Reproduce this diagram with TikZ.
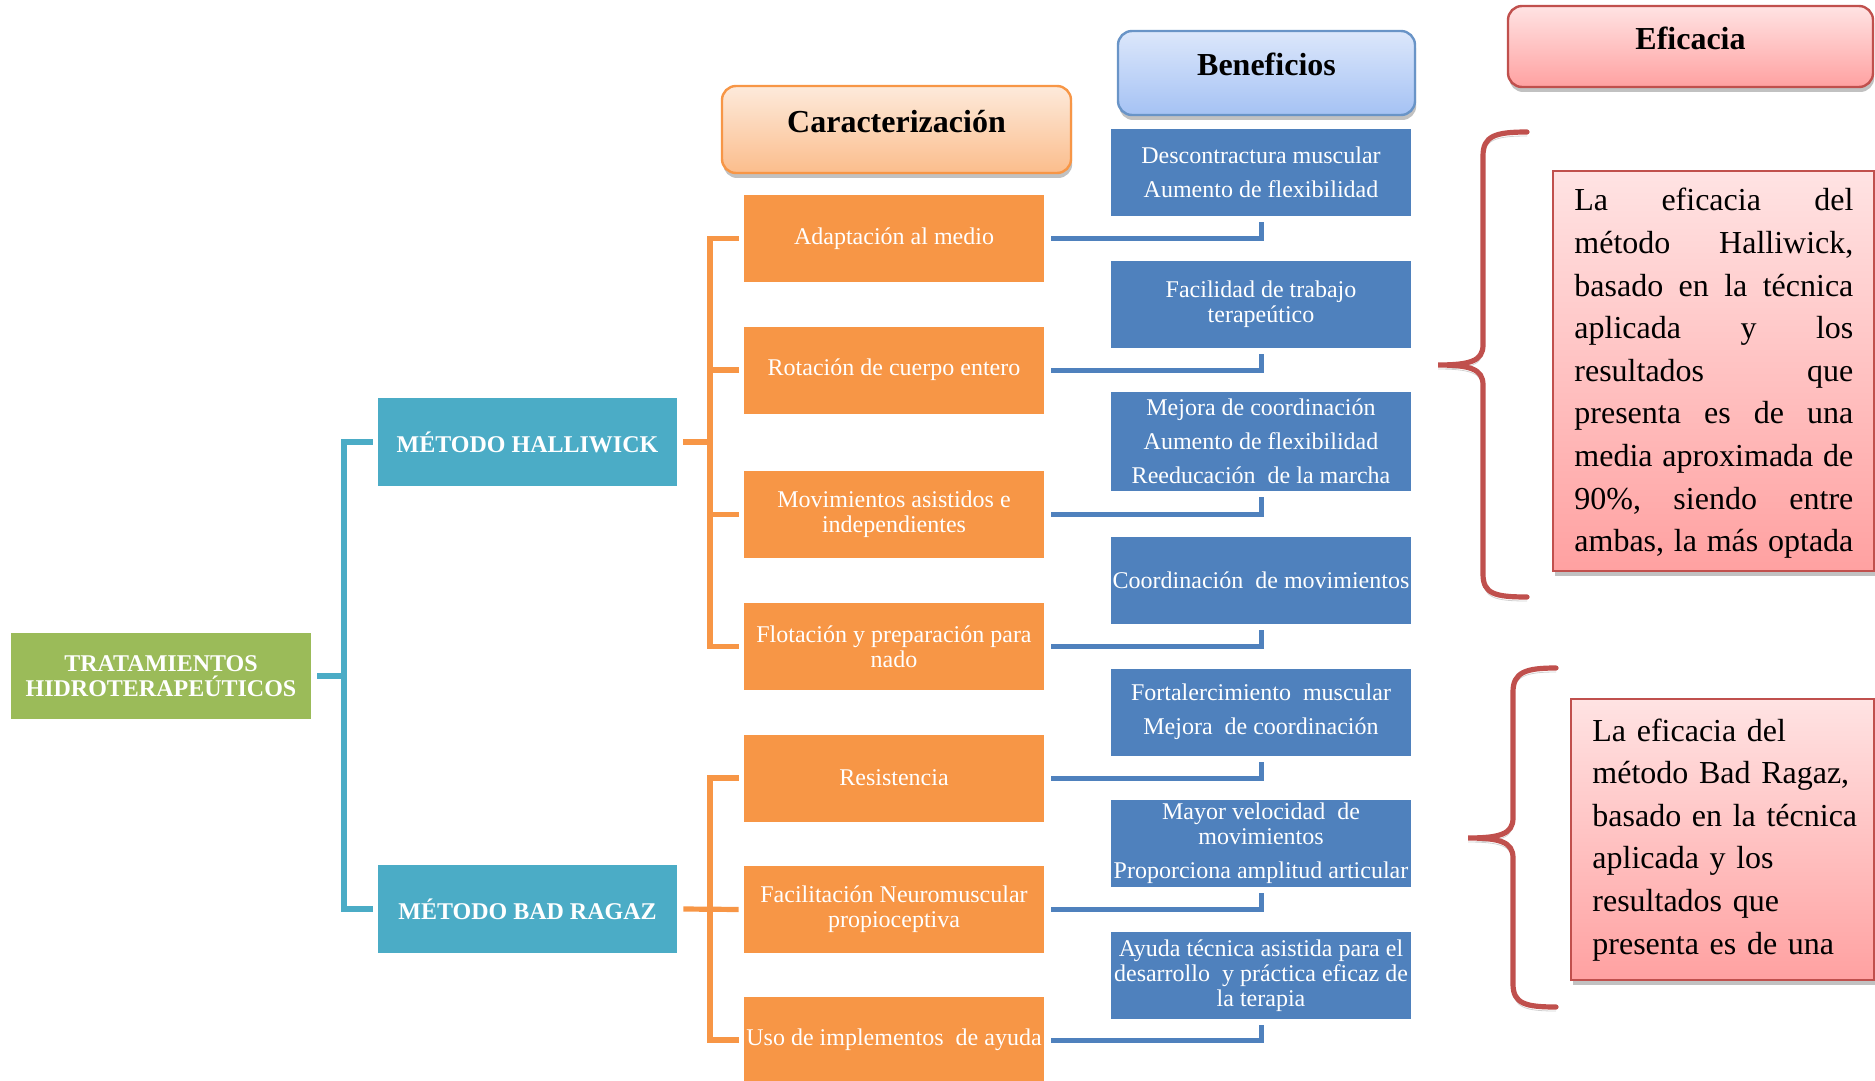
\documentclass[tikz,border=0pt]{standalone}
\usepackage{fontspec}
\setmainfont{Liberation Serif}
\usetikzlibrary{shadows}
\definecolor{cgreen}{HTML}{9BBB59}
\definecolor{cteal}{HTML}{4BACC6}
\definecolor{corange}{HTML}{F79646}
\definecolor{cblue}{HTML}{4F81BD}
\definecolor{cred}{HTML}{C0504D}
\definecolor{pkTop}{HTML}{FDEADB}
\definecolor{pkBot}{HTML}{FBBD8C}
\definecolor{blTop}{HTML}{DCE7FB}
\definecolor{blBot}{HTML}{A5C2F4}
\definecolor{rdTop}{HTML}{FFE3E3}
\definecolor{rdBot}{HTML}{FFA1A1}
\newcommand{\jline}[1]{\makebox[139.5pt]{#1}}
\begin{document}
\begin{tikzpicture}[x=0.5pt,y=-0.5pt,
  box/.style={rectangle, minimum width=150pt, minimum height=43.5pt, inner sep=0pt,
    text=white, align=center, font=\fontsize{12}{12.5}\selectfont},
  gbox/.style={box, fill=cgreen, minimum height=43pt, font=\bfseries\fontsize{12}{12.5}\selectfont},
  tbox/.style={box, fill=cteal, minimum width=149.5pt, minimum height=44pt, font=\bfseries\fontsize{12}{12.5}\selectfont},
  obox/.style={box, fill=corange},
  bbox/.style={box, fill=cblue},
  tline/.style={draw=cteal, line width=2.6pt},
  oline/.style={draw=corange, line width=2.6pt},
  bline/.style={draw=cblue, line width=2.5pt},
  hdr/.style={rectangle, rounded corners=7pt, line width=1.2pt, inner sep=0pt,
    text=black, font=\bfseries\fontsize{16}{18}\selectfont, text height=12pt, text depth=9pt,
    drop shadow={shadow xshift=0.6pt, shadow yshift=-2.5pt, opacity=0.35, fill=black!70}},
  rbox/.style={rectangle, draw=cred, line width=1pt, top color=rdTop, bottom color=rdBot, inner sep=0pt,
    drop shadow={shadow xshift=0.8pt, shadow yshift=-2.5pt, opacity=0.35, fill=black!70}},
  rtext/.style={inner sep=0pt, text=black, align=left, font=\fontsize{16}{21.3}\selectfont},
  brace/.style={draw=cred, line width=2.6pt, line cap=round,
    preaction={draw=black, draw opacity=0.18, transform canvas={yshift=-2pt}}}
]
\useasboundingbox (0,0) rectangle (1875,1081);

% headers
\node[hdr, draw=corange, top color=pkTop, bottom color=pkBot, minimum width=174.5pt, minimum height=43.5pt] (car) at (896.5,129.5) {Caracterización};
\node[hdr, draw=cblue!85, top color=blTop, bottom color=blBot, minimum width=148.5pt, minimum height=42pt] (ben) at (1266.5,73) {Beneficios};
\node[hdr, draw=cred, top color=rdTop, bottom color=rdBot, minimum width=182.5pt, minimum height=40.5pt] (efi) at (1690.5,46.5) {Eficacia};

% main nodes
\node[gbox] (trat) at (161,676) {TRATAMIENTOS\\HIDROTERAPEÚTICOS};
\node[tbox] (hall) at (527.5,442) {MÉTODO HALLIWICK};
\node[tbox] (bad) at (527.5,909) {MÉTODO BAD RAGAZ};

% characterisation
\node[obox] (c1) at (894,238.5) {Adaptación al medio};
\node[obox] (c2) at (894,370) {Rotación de cuerpo entero};
\node[obox] (c3) at (894,514.5) {Movimientos asistidos e\\independientes};
\node[obox] (c4) at (894,646.5) {Flotación y preparación para\\nado};
\node[obox] (c5) at (894,778) {Resistencia};
\node[obox] (c6) at (894,909.5) {Facilitación Neuromuscular\\propioceptiva};
\node[obox] (c7) at (894,1040) {Uso de implementos\ \ de ayuda};

% benefits
\node[bbox] (b1) at (1261,172.5) {Descontractura muscular\\[4.5pt]Aumento de flexibilidad};
\node[bbox] (b2) at (1261,304.5) {Facilidad de trabajo\\terapeútico};
\node[bbox, minimum height=49.5pt] (b3) at (1261,441.5) {Mejora de coordinación\\[4.5pt]Aumento de flexibilidad\\[4.5pt]Reeducación\ \ de la marcha};
\node[bbox] (b4) at (1261,580.5) {Coordinación\ \ de movimientos};
\node[bbox] (b5) at (1261,712) {Fortalercimiento\ \ muscular\\[4.5pt]Mejora\ \ de coordinación};
\node[bbox] (b6) at (1261,843.5) {Mayor velocidad\ \ de\\movimientos\\[4.5pt]Proporciona amplitud articular};
\node[bbox] (b7) at (1261,975.5) {Ayuda técnica asistida para el\\desarrollo\ \ y práctica eficaz de\\la terapia};

% tree connectors
\coordinate (tj) at (344,676);
\draw[tline] ([xshift=3pt]trat.east) -- (tj);
\draw[tline] ([xshift=-2.5pt]hall.west) -| (tj) |- ([xshift=-2.5pt]bad.west);

\coordinate (hj) at (710,442);
\draw[oline] ([xshift=3pt]hall.east) -- (hj);
\draw[oline] ([xshift=-2.5pt]c1.west) -| (hj) |- ([xshift=-2.5pt]c4.west);
\draw[oline] ([xshift=-2.5pt]c2.west) -- (c2.west -| hj);
\draw[oline] ([xshift=-2.5pt]c3.west) -- (c3.west -| hj);

\coordinate (bj) at (710,909.5);
\draw[oline] ([xshift=3pt]bad.east) -- ([xshift=-2.5pt]c6.west);
\draw[oline] ([xshift=-2.5pt]c5.west) -| (bj) |- ([xshift=-2.5pt]c7.west);

\foreach \i in {1,...,7}
  \draw[bline] ([xshift=3.5pt]c\i.east) -| ([yshift=-3pt]b\i.south);

% efficacy boxes
\node[rbox, minimum width=160.5pt, minimum height=200pt] (hbox) at (1713.5,371) {};
\node[rtext, text width=139.5pt, anchor=base west] (htext) at (1574,211) {%
\jline{La\hfill eficacia\hfill del}\\
\jline{método\hfill Halliwick,}\\
\jline{basado\hfill en\hfill la\hfill técnica}\\
\jline{aplicada\hfill y\hfill los}\\
\jline{resultados\hfill que}\\
\jline{presenta\hfill es\hfill de\hfill una}\\
\jline{media\hfill aproximada\hfill de}\\
\jline{90\%,\hfill siendo\hfill entre}\\
\jline{ambas,\hfill la\hfill más\hfill optada}};

\node[rbox, minimum width=151.5pt, minimum height=140.5pt] (rbox2) at (1722.5,839.5) {};
\node[rtext, text width=140pt, anchor=base west] (rtext2) at (1592,741) {%
La eficacia del\\
método Bad Ragaz,\\
basado en la técnica\\
aplicada y los\\
resultados que\\
presenta es de una};

% braces
\draw[brace] (1527,132) .. controls (1495,132) and (1483,136) .. (1483,156)
  -- (1483,345) .. controls (1483,361) and (1470,365) .. (1438,365)
  .. controls (1470,365) and (1483,369) .. (1483,385)
  -- (1483,574) .. controls (1483,594) and (1495,597) .. (1527,597);
\draw[brace] (1556,668) .. controls (1526,668) and (1513,672) .. (1513,692)
  -- (1513,818) .. controls (1513,834) and (1500,838) .. (1468,838)
  .. controls (1500,838) and (1513,842) .. (1513,858)
  -- (1513,984) .. controls (1513,1004) and (1526,1007) .. (1556,1007);
\end{tikzpicture}
\end{document}
